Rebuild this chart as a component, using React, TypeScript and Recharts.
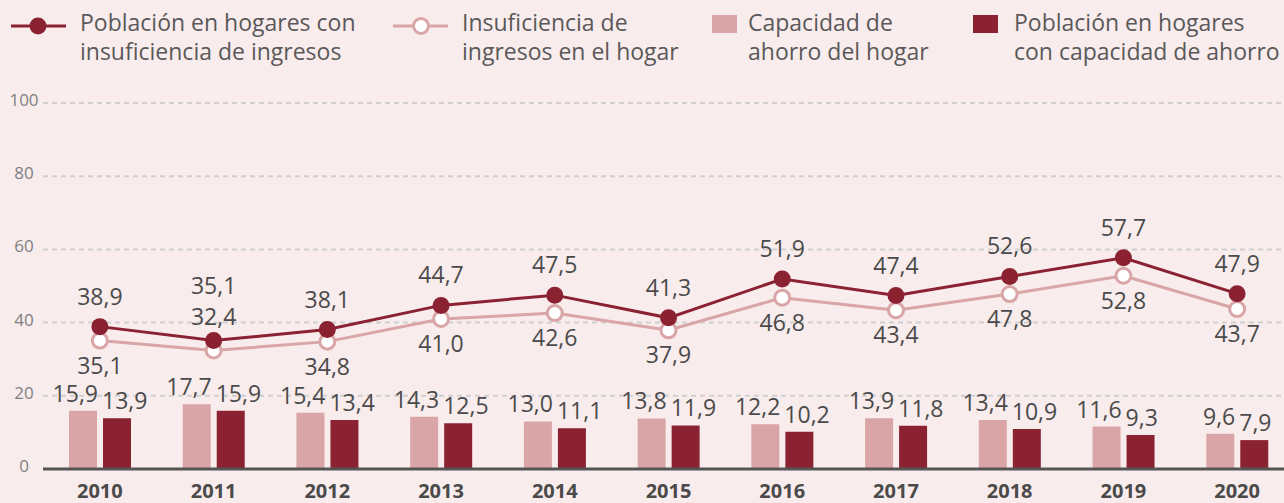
import React from 'react';
import { ComposedChart, Bar, Line, XAxis, YAxis, CartesianGrid } from 'recharts';

const years = ['2010', '2011', '2012', '2013', '2014', '2015', '2016', '2017', '2018', '2019', '2020'];
const poblacionInsuficiencia = [38.9, 35.1, 38.1, 44.7, 47.5, 41.3, 51.9, 47.4, 52.6, 57.7, 47.9];
const insuficienciaHogar = [35.1, 32.4, 34.8, 41.0, 42.6, 37.9, 46.8, 43.4, 47.8, 52.8, 43.7];
const capacidadHogar = [15.9, 17.7, 15.4, 14.3, 13.0, 13.8, 12.2, 13.9, 13.4, 11.6, 9.6];
const poblacionCapacidad = [13.9, 15.9, 13.4, 12.5, 11.1, 11.9, 10.2, 11.8, 10.9, 9.3, 7.9];
const yTicks = [0, 20, 40, 60, 80, 100];

const data = years.map((year, i) => ({
  year,
  pobIns: poblacionInsuficiencia[i],
  insHog: insuficienciaHogar[i],
  capHog: capacidadHogar[i],
  pobCap: poblacionCapacidad[i],
}));

const DARK = '#8b2232';
const LIGHT = '#d9a5a7';
const BG = '#f9eced';
const TEXT = '#4a4a4a';
const FONT = '"Open Sans", sans-serif';
const LABEL_SIZE = 23;

// years where the light line label sits above its point (avoids the bar labels)
const raisedLabels = [1];

const fmt = (v: number) => v.toFixed(1).replace('.', ',');

function DarkLineLabel(props: any) {
  const { x, y, value, index } = props;
  const up = raisedLabels.includes(index) ? 47 : 22;
  return (
    <text x={x} y={y - up} textAnchor="middle" fill={TEXT} fontSize={LABEL_SIZE} fontFamily={FONT}>
      {fmt(value)}
    </text>
  );
}

function LightLineLabel(props: any) {
  const { x, y, value, index } = props;
  const dy = raisedLabels.includes(index) ? -25 : 33;
  return (
    <text x={x} y={y + dy} textAnchor="middle" fill={TEXT} fontSize={LABEL_SIZE} fontFamily={FONT}>
      {fmt(value)}
    </text>
  );
}

function LightBarLabel(props: any) {
  const { x, y, width, value } = props;
  return (
    <text x={x + width + 1} y={y - 9} textAnchor="end" fill={TEXT} fontSize={LABEL_SIZE} fontFamily={FONT}>
      {fmt(value)}
    </text>
  );
}

function DarkBarLabel(props: any) {
  const { x, y, value } = props;
  return (
    <text x={x - 1} y={y - 9} textAnchor="start" fill={TEXT} fontSize={LABEL_SIZE} fontFamily={FONT}>
      {fmt(value)}
    </text>
  );
}

function YTick(props: any) {
  const { y, payload } = props;
  return (
    <text x={24} y={y + 3} textAnchor="middle" fill="#808080" fontSize={17} fontFamily={FONT}>
      {payload.value}
    </text>
  );
}

function XTick(props: any) {
  const { x, y, payload } = props;
  return (
    <text x={x} y={y + 21} textAnchor="middle" fill={TEXT} fontSize={20} fontWeight={700} fontFamily={FONT}>
      {payload.value}
    </text>
  );
}

const legendText: React.CSSProperties = {
  position: 'absolute',
  top: 8,
  fontSize: 23,
  lineHeight: '29px',
  color: '#595959',
  fontFamily: FONT,
  whiteSpace: 'nowrap',
};

function LegendBlock() {
  return (
    <>
      <svg style={{ position: 'absolute', left: 10, top: 16 }} width={58} height={20}>
        <line x1={1} y1={10} x2={56} y2={10} stroke={DARK} strokeWidth={3} />
        <circle cx={28} cy={10} r={8.5} fill={DARK} />
      </svg>
      <div style={{ ...legendText, left: 80 }}>
        Población en hogares con<br />insuficiencia de ingresos
      </div>

      <svg style={{ position: 'absolute', left: 392, top: 16 }} width={58} height={20}>
        <line x1={1} y1={10} x2={56} y2={10} stroke={LIGHT} strokeWidth={3} />
        <circle cx={29} cy={10} r={7.5} fill="#fff" stroke={LIGHT} strokeWidth={3} />
      </svg>
      <div style={{ ...legendText, left: 462 }}>
        Insuficiencia de<br />ingresos en el hogar
      </div>

      <div style={{ position: 'absolute', left: 712, top: 15, width: 25, height: 18, background: LIGHT }} />
      <div style={{ ...legendText, left: 748 }}>
        Capacidad de<br />ahorro del hogar
      </div>

      <div style={{ position: 'absolute', left: 973, top: 15, width: 25, height: 18, background: DARK }} />
      <div style={{ ...legendText, left: 1014 }}>
        Población en hogares<br />con capacidad de ahorro
      </div>
    </>
  );
}

export default function App() {
  return (
    <div
      style={{
        position: 'absolute',
        left: 0,
        top: 0,
        width: 1284,
        height: 503,
        overflow: 'hidden',
        background: BG,
        fontFamily: FONT,
      }}
    >
      <LegendBlock />
      <div style={{ position: 'absolute', left: 0, top: 0 }}>
        <ComposedChart
          width={1294}
          height={503}
          data={data}
          margin={{ top: 103, right: 0, bottom: 0, left: 0 }}
          barSize={28}
          barGap={6}
        >
          <CartesianGrid
            vertical={false}
            stroke="#cfcfcf"
            strokeWidth={2}
            strokeDasharray="5 4"
          />
          <XAxis
            dataKey="year"
            height={34}
            tickLine={false}
            axisLine={{ stroke: '#555555', strokeWidth: 3 }}
            tick={<XTick />}
            interval={0}
          />
          <YAxis
            width={43}
            domain={[0, 100]}
            ticks={yTicks}
            axisLine={false}
            tickLine={false}
            tick={<YTick />}
          />
          <Bar dataKey="capHog" fill={LIGHT} isAnimationActive={false} label={<LightBarLabel />} />
          <Bar dataKey="pobCap" fill={DARK} isAnimationActive={false} label={<DarkBarLabel />} />
          <Line
            dataKey="insHog"
            stroke={LIGHT}
            strokeWidth={3}
            dot={{ r: 7.5, fill: '#fff', stroke: LIGHT, strokeWidth: 3 }}
            activeDot={false}
            isAnimationActive={false}
            label={<LightLineLabel />}
          />
          <Line
            dataKey="pobIns"
            stroke={DARK}
            strokeWidth={3}
            dot={{ r: 8.5, fill: DARK, stroke: DARK, strokeWidth: 0 }}
            activeDot={false}
            isAnimationActive={false}
            label={<DarkLineLabel />}
          />
        </ComposedChart>
      </div>
    </div>
  );
}
